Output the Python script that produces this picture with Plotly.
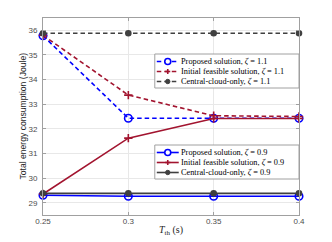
import plotly.graph_objects as go

t_th = [0.25, 0.3, 0.35, 0.4]
proposed_11 = [35.78, 32.43, 32.43, 32.43]
initial_11 = [35.8, 33.37, 32.53, 32.5]
central_11 = [35.88, 35.88, 35.88, 35.88]
proposed_09 = [29.3, 29.26, 29.26, 29.26]
initial_09 = [29.35, 31.62, 32.42, 32.42]
central_09 = [29.38, 29.38, 29.38, 29.38]
x_ticks = [0.25, 0.3, 0.35, 0.4]
x_tick_text = ["0.25", "0.3", "0.35", "0.4"]
y_ticks = [29, 30, 31, 32, 33, 34, 35, 36]
labels_11 = ["Proposed solution, <i>ζ</i> = 1.1",
             "Initial feasible solution, <i>ζ</i> = 1.1",
             "Central-cloud-only, <i>ζ</i> = 1.1"]
labels_09 = ["Proposed solution, <i>ζ</i> = 0.9",
             "Initial feasible solution, <i>ζ</i> = 0.9",
             "Central-cloud-only, <i>ζ</i> = 0.9"]

BLUE = "#0000ff"
RED = "#a2142f"
GRAY = "#404040"
DASH = "4.5px,3px"

W, H = 332, 242
L, R, T, B = 43, 32.5, 18, 27
PW, PH = W - L - R, H - T - B


def px(x):
    return (x - L) / PW


def py(y):
    return (H - B - y) / PH


fig = go.Figure()

series = [
    (proposed_11, BLUE, DASH, "circle-open", 7.5, labels_11[0]),
    (initial_11, RED, DASH, "cross-thin-open", 6, labels_11[1]),
    (central_11, GRAY, DASH, "circle", 5, labels_11[2]),
    (proposed_09, BLUE, "solid", "circle-open", 7.5, labels_09[0]),
    (initial_09, RED, "solid", "cross-thin-open", 6, labels_09[1]),
    (central_09, GRAY, "solid", "circle", 5, labels_09[2]),
]
for ys, col, dash, sym, size, name in series:
    fig.add_trace(go.Scatter(
        x=t_th, y=ys, mode="lines+markers", name=name, showlegend=False,
        cliponaxis=False, hoverinfo="skip",
        line=dict(color=col, width=1.6, dash=dash),
        marker=dict(symbol=sym, size=size, color=col,
                    line=dict(color=col, width=1.6)),
    ))

shapes = []
annotations = []


def draw_legend(top, bottom, rows, styles, labels):
    shapes.append(dict(type="rect", xref="paper", yref="paper",
                       x0=px(155), x1=px(299.5), y0=py(bottom), y1=py(top),
                       fillcolor="white", line=dict(color="#a0a0a0", width=1),
                       layer="above"))
    for ry, (col, dash, sym), lab in zip(rows, styles, labels):
        shapes.append(dict(type="line", xref="paper", yref="paper",
                           x0=px(157), x1=px(179), y0=py(ry), y1=py(ry),
                           line=dict(color=col, width=1.6, dash=dash), layer="above"))
        cx = 168
        if sym == "o":
            shapes.append(dict(type="circle", xref="paper", yref="paper",
                               x0=px(cx - 3), x1=px(cx + 3), y0=py(ry + 3), y1=py(ry - 3),
                               fillcolor="white", line=dict(color=col, width=1.6), layer="above"))
        elif sym == "+":
            shapes.append(dict(type="line", xref="paper", yref="paper",
                               x0=px(cx - 2.5), x1=px(cx + 2.5), y0=py(ry), y1=py(ry),
                               line=dict(color=col, width=1.6), layer="above"))
            shapes.append(dict(type="line", xref="paper", yref="paper",
                               x0=px(cx), x1=px(cx), y0=py(ry - 2.5), y1=py(ry + 2.5),
                               line=dict(color=col, width=1.6), layer="above"))
        else:
            shapes.append(dict(type="circle", xref="paper", yref="paper",
                               x0=px(cx - 2.2), x1=px(cx + 2.2), y0=py(ry + 2.2), y1=py(ry - 2.2),
                               fillcolor=col, line=dict(color=col, width=1), layer="above"))
        annotations.append(dict(xref="paper", yref="paper", x=px(180.5), y=py(ry),
                                xanchor="left", yanchor="middle", showarrow=False,
                                text=lab, borderpad=0,
                                font=dict(family="Liberation Serif", size=8.3, color="black")))


draw_legend(54, 88, [61.5, 71.5, 81.5],
            [(BLUE, DASH, "o"), (RED, DASH, "+"), (GRAY, DASH, ".")], labels_11)
draw_legend(145, 179, [152.5, 162.5, 172.5],
            [(BLUE, "solid", "o"), (RED, "solid", "+"), (GRAY, "solid", ".")], labels_09)

annotations.append(dict(xref="paper", yref="paper", x=0.5, y=py(230),
                        xanchor="center", yanchor="middle", showarrow=False,
                        text="<i>T</i><sub>th</sub> (s)", borderpad=0,
                        font=dict(family="Liberation Serif", size=10, color="#262626")))
annotations.append(dict(xref="paper", yref="paper", x=px(22), y=0.5,
                        xanchor="center", yanchor="middle", showarrow=False,
                        textangle=-90, text="Total energy consumption (Joule)", borderpad=0,
                        font=dict(family="Liberation Sans", size=8.6, color="#262626")))

fig.update_layout(
    width=W, height=H,
    margin=dict(l=L, r=R, t=T, b=B, pad=0),
    paper_bgcolor="white", plot_bgcolor="white",
    shapes=shapes, annotations=annotations,
    hovermode=False,
    font=dict(family="Liberation Sans", size=8, color="#4d4d4d"),
    xaxis=dict(range=[0.25, 0.4], tickvals=x_ticks, ticktext=x_tick_text,
               showgrid=True, gridcolor="#e8e8e8", gridwidth=1,
               showline=True, linecolor="#a0a0a0", linewidth=1, mirror="ticks",
               ticks="inside", ticklen=3, tickcolor="#a0a0a0", ticklabelstandoff=-2,
               zeroline=False, tickfont=dict(size=8, color="#4d4d4d")),
    yaxis=dict(range=[28.5, 36.5], tickvals=y_ticks,
               showgrid=True, gridcolor="#e8e8e8", gridwidth=1,
               showline=True, linecolor="#a0a0a0", linewidth=1, mirror="ticks",
               ticks="inside", ticklen=3, tickcolor="#a0a0a0", ticklabelstandoff=3,
               zeroline=False, tickfont=dict(size=8, color="#4d4d4d")),
)

fig.write_html("out.html", config={"displayModeBar": False},
               post_script="document.body.style.margin='0px';")
